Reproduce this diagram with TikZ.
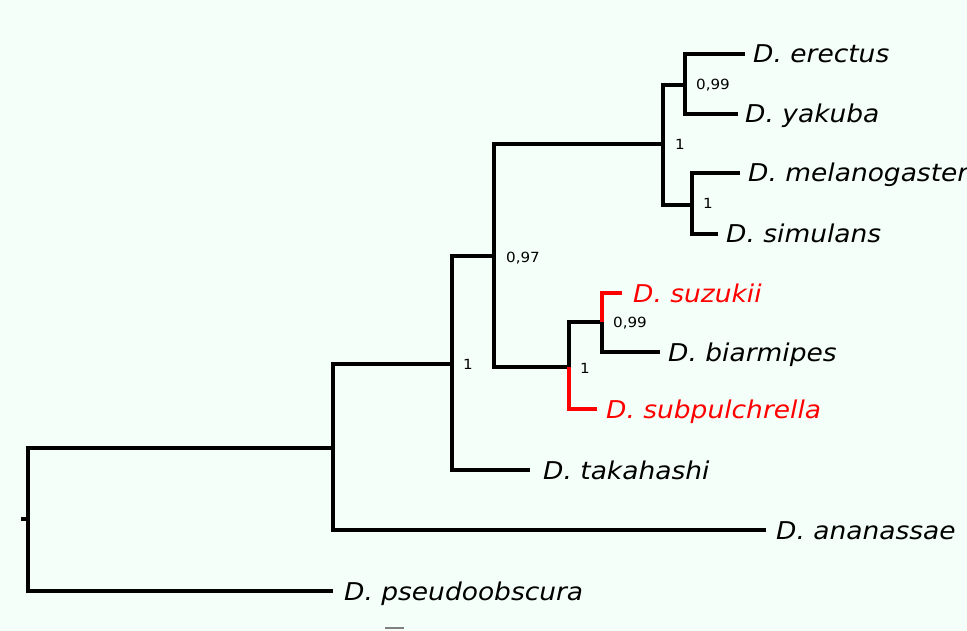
\documentclass[tikz,border=0pt]{standalone}
\usepackage{fontspec}
\setmainfont{DejaVu Sans}
\newfontfamily\treefont[FakeStretch=1.08]{DejaVu Sans}
\definecolor{bg}{HTML}{F5FFFA}
\definecolor{tipred}{HTML}{FF0000}
\definecolor{scalegray}{HTML}{808080}

\begin{document}
\begin{tikzpicture}[x=1pt,y=-1pt,
  branch/.style={line width=3.2pt, draw=black},
  hot/.style={line width=3.2pt, draw=tipred},
  taxon/.style={anchor=base west, inner sep=0pt, font=\treefont\fontsize{24.5}{24.5}\selectfont\itshape},
  redtaxon/.style={taxon, text=tipred},
  support/.style={anchor=base west, inner sep=0pt, font=\treefont\fontsize{14}{14}\selectfont}]

% canvas
\fill[bg] (0,0) rectangle (967,631);
\useasboundingbox (0,0) rectangle (967,631);

% internal nodes
\coordinate (stub) at (21,519);
\coordinate (root) at (28,519);
\coordinate (nA) at (333,448);
\coordinate (nB) at (452,364);
\coordinate (nC) at (494,256);
\coordinate (nD) at (663,144);
\coordinate (nE) at (685,85);
\coordinate (nF) at (692,205);
\coordinate (nG) at (569,367);
\coordinate (nH) at (602,322);

% branch tips
\coordinate (tPse) at (333,591);
\coordinate (tAna) at (766,530);
\coordinate (tTak) at (530,470);
\coordinate (tEre) at (745,54);
\coordinate (tYak) at (738,114);
\coordinate (tMel) at (740,173);
\coordinate (tSim) at (718,234);
\coordinate (tSuz) at (622,293);
\coordinate (tBia) at (660,352);
\coordinate (tSub) at (597,409);

% branches
\draw[branch] (stub) -- (root);
\draw[branch] (root) |- (nA);
\draw[branch] (root) |- (tPse);
\draw[branch] (nA) |- (nB);
\draw[branch] (nA) |- (tAna);
\draw[branch] (nB) |- (nC);
\draw[branch] (nB) |- (tTak);
\draw[branch] (nC) |- (nD);
\draw[branch] (nC) |- (nG);
\draw[branch] (nD) |- (nE);
\draw[branch] (nD) |- (nF);
\draw[branch] (nE) |- (tEre);
\draw[branch] (nE) |- (tYak);
\draw[branch] (nF) |- (tMel);
\draw[branch] (nF) |- (tSim);
\draw[branch] (nG) |- (nH);
\draw[hot] (nG) |- (tSub);
\draw[hot] (nH) |- (tSuz);
\draw[branch] (nH) |- (tBia);

% taxon labels (baseline sits half a cap height below the branch)
\node[taxon] (lPse) at (344,600) {D. pseudoobscura};
\node[taxon] (lAna) at (776,539) {D. ananassae};
\node[taxon] (lTak) at (543,479) {D. takahashi};
\node[taxon] (lEre) at (753,63) {D. erectus};
\node[taxon] (lYak) at (745,123) {D. yakuba};
\node[taxon] (lMel) at (748,182) {D. melanogaster};
\node[taxon] (lSim) at (726,243) {D. simulans};
\node[redtaxon] (lSuz) at (633,302) {D. suzukii};
\node[taxon] (lBia) at (668,361) {D. biarmipes};
\node[redtaxon] (lSub) at (606,418) {D. subpulchrella};

% support values
\node[support] (sB) at (463,369) {1};
\node[support] (sC) at (506,262) {0,97};
\node[support] (sD) at (675,150) {1};
\node[support] (sE) at (696,90) {0,99};
\node[support] (sF) at (703,209) {1};
\node[support] (sG) at (580,373) {1};
\node[support] (sH) at (613,327) {0,99};

% scale bar
\coordinate (sbL) at (385,628);
\coordinate (sbR) at (404,628);
\draw[scalegray, line width=2pt] (sbL) -- (sbR);
\end{tikzpicture}
\end{document}
